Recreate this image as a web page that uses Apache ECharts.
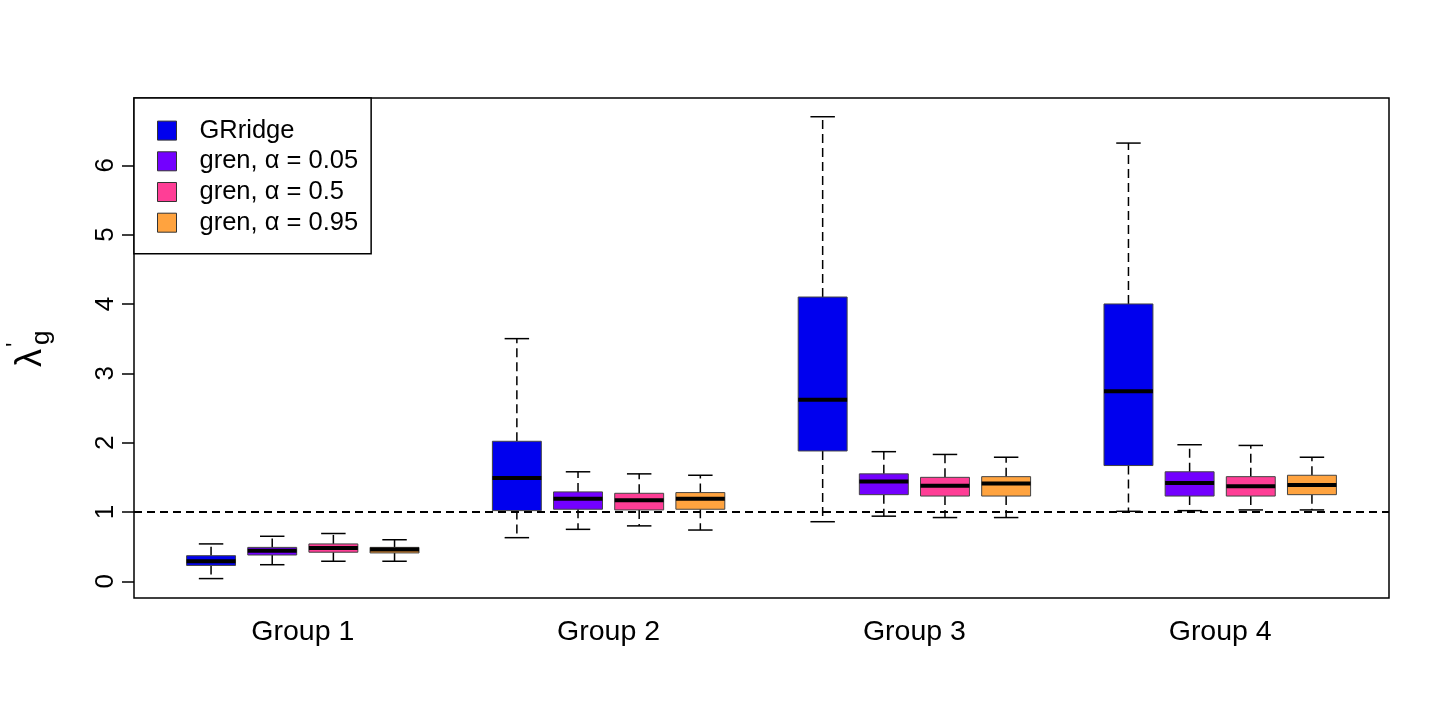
<!DOCTYPE html>
<html>
<head>
<meta charset="utf-8">
<script src="https://cdn.jsdelivr.net/npm/echarts@6/dist/echarts.min.js"></script>
<style>
  html, body { margin: 0; padding: 0; background: #fff; }
  #chart { width: 1440px; height: 720px; }
</style>
</head>
<body>
<div id="chart"></div>
<script>
'use strict';

// one entry per group: [min, q1, median, q3, max]
var groups = ['Group 1', 'Group 2', 'Group 3', 'Group 4'];
var methods = ['GRridge', 'gren, α = 0.05', 'gren, α = 0.5', 'gren, α = 0.95'];
var colors = ['#0000EE', '#7300FF', '#FF3E96', '#FFA33F'];

var grridge = [
    [0.04, 0.23, 0.29, 0.37, 0.54],
    [0.63, 1.02, 1.49, 2.02, 3.50],
    [0.86, 1.88, 2.62, 4.10, 6.70],
    [1.01, 1.67, 2.74, 4.00, 6.32]
];
var gren005 = [
    [0.24, 0.38, 0.44, 0.49, 0.65],
    [0.75, 1.04, 1.19, 1.29, 1.58],
    [0.94, 1.25, 1.44, 1.55, 1.87],
    [1.02, 1.23, 1.42, 1.58, 1.97]
];
var gren05 = [
    [0.29, 0.42, 0.48, 0.54, 0.69],
    [0.80, 1.03, 1.17, 1.27, 1.55],
    [0.92, 1.23, 1.38, 1.50, 1.83],
    [1.03, 1.23, 1.37, 1.51, 1.96]
];
var gren095 = [
    [0.29, 0.41, 0.46, 0.49, 0.60],
    [0.74, 1.04, 1.19, 1.28, 1.53],
    [0.92, 1.23, 1.41, 1.51, 1.79],
    [1.03, 1.25, 1.39, 1.53, 1.79]
];
var yTicks = [0, 1, 2, 3, 4, 5, 6];
var groupCenters = [2.5, 7.5, 12.5, 17.5];

var font = 'Liberation Sans, Arial, Helvetica, sans-serif';

function renderBox(params, api) {
    var x = api.value(0);
    var color = api.visual('color');
    var w = api.size([0.8, 0])[0];
    var sw = w / 2;
    var c = api.coord([x, api.value(3)]);
    var cx = c[0];
    var yMin = api.coord([x, api.value(1)])[1];
    var yQ1 = api.coord([x, api.value(2)])[1];
    var yMed = c[1];
    var yQ3 = api.coord([x, api.value(4)])[1];
    var yMax = api.coord([x, api.value(5)])[1];
    var dashed = { stroke: '#000', lineWidth: 1.5, lineDash: [9, 5] };
    var solid = { stroke: '#000', lineWidth: 1.5 };
    return {
        type: 'group',
        children: [
            { type: 'line', shape: { x1: cx, y1: yQ3, x2: cx, y2: yMax }, style: dashed },
            { type: 'line', shape: { x1: cx, y1: yQ1, x2: cx, y2: yMin }, style: dashed },
            { type: 'line', shape: { x1: cx - sw / 2, y1: yMax, x2: cx + sw / 2, y2: yMax }, style: solid },
            { type: 'line', shape: { x1: cx - sw / 2, y1: yMin, x2: cx + sw / 2, y2: yMin }, style: solid },
            {
                type: 'rect',
                shape: { x: cx - w / 2, y: yQ3, width: w, height: yQ1 - yQ3 },
                style: { fill: color, stroke: '#444', lineWidth: 1 }
            },
            { type: 'line', shape: { x1: cx - w / 2, y1: yMed, x2: cx + w / 2, y2: yMed }, style: { stroke: '#000', lineWidth: 4 } }
        ]
    };
}

var chart = echarts.init(document.getElementById('chart'));

var allData = [grridge, gren005, gren05, gren095];
var series = [];
for (var m = 0; m < methods.length; m++) {
    var rows = [];
    for (var g = 0; g < groups.length; g++) {
        var s = allData[m][g];
        rows.push([g * 5 + m + 1, s[0], s[1], s[2], s[3], s[4]]);
    }
    var item = {
        name: methods[m],
        type: 'custom',
        renderItem: renderBox,
        itemStyle: { color: colors[m] },
        encode: { x: 0, y: [1, 2, 3, 4, 5] },
        data: rows,
        z: 3
    };
    if (m === 0) {
        item.markLine = {
            silent: true,
            symbol: 'none',
            label: { show: false },
            lineStyle: { color: '#000', width: 2, type: [8, 5] },
            data: [{ yAxis: 1 }]
        };
    }
    series.push(item);
}

var options = {
    animation: false,
    grid: {
        left: 134,
        right: 51,
        top: 98,
        bottom: 122,
        show: true,
        borderColor: '#000',
        borderWidth: 1.5,
        backgroundColor: 'transparent'
    },
    legend: {
        data: methods,
        orient: 'vertical',
        left: 134,
        top: 98,
        icon: 'rect',
        itemWidth: 19,
        itemHeight: 19,
        itemGap: 4.7,
        padding: [19.6, 13, 18, 23],
        borderColor: '#000',
        borderWidth: 1.5,
        backgroundColor: '#fff',
        itemStyle: { borderColor: '#333', borderWidth: 1 },
        textStyle: {
            fontFamily: font,
            fontSize: 25.5,
            color: '#000',
            padding: [0, 0, 0, 18]
        },
        z: 10
    },
    xAxis: {
        type: 'value',
        min: -0.26,
        max: 20.26,
        splitLine: { show: false },
        axisLine: { show: false, onZero: false },
        axisTick: { show: false },
        axisLabel: {
            customValues: groupCenters,
            margin: 20,
            fontFamily: font,
            fontSize: 28.5,
            color: '#000',
            formatter: function (v) {
                return groups[Math.round((v - 2.5) / 5)];
            }
        }
    },
    yAxis: {
        type: 'value',
        min: -0.24,
        max: 6.97,
        splitLine: { show: false },
        axisLine: { show: false, onZero: false },
        axisTick: {
            show: true,
            customValues: yTicks,
            length: 12,
            lineStyle: { color: '#000', width: 1.5 }
        },
        axisLabel: {
            customValues: yTicks,
            rotate: 90,
            margin: 15,
            fontFamily: font,
            fontSize: 26,
            color: '#000'
        }
    },
    graphic: [
        {
            type: 'group',
            x: 13,
            y: 367,
            rotation: Math.PI / 2,
            children: [
                { type: 'text', x: 0, y: 0, style: { text: 'λ', font: '36px ' + font, fill: '#000' } },
                { type: 'text', x: 20, y: -9, style: { text: "'", font: '24px ' + font, fill: '#000' } },
                { type: 'text', x: 22, y: 16, style: { text: 'g', font: '26px ' + font, fill: '#000' } }
            ]
        }
    ],
    series: series
};

chart.setOption(options);
</script>
</body>
</html>
